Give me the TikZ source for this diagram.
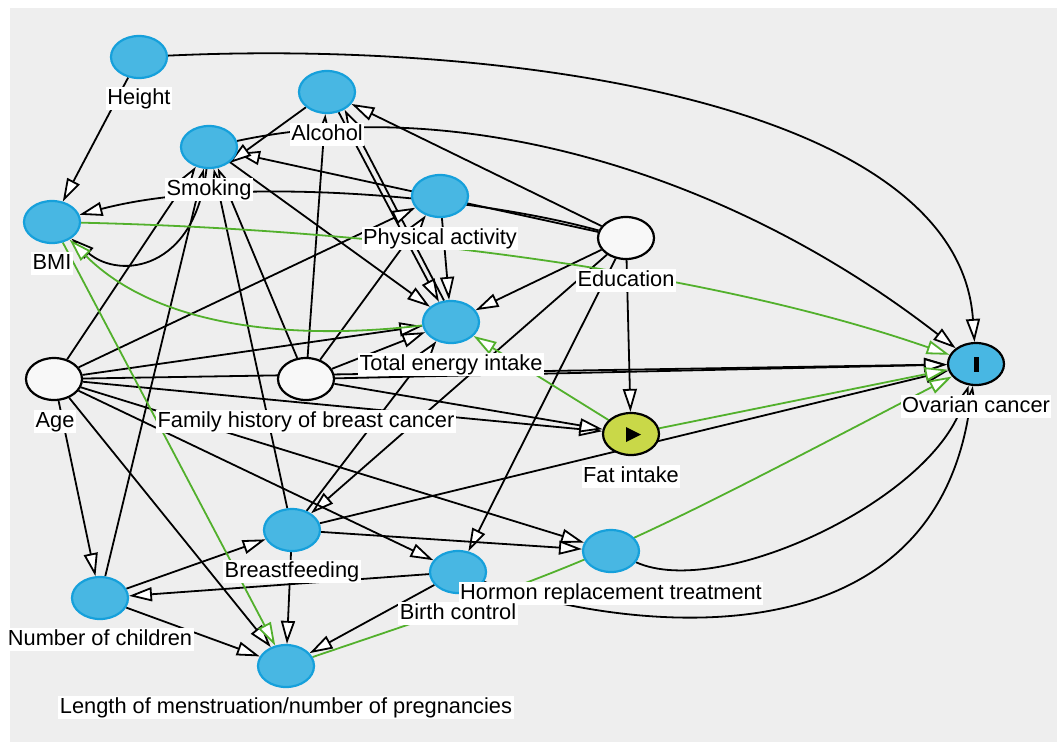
\documentclass[tikz,border=0pt]{standalone}
\usepackage{fontspec}
\setmainfont{Liberation Sans}
\usetikzlibrary{shapes.geometric,arrows.meta}
\pgfdeclarelayer{back}
\pgfdeclarelayer{edges}
\pgfsetlayers{back,edges,main}
\definecolor{bg}{RGB}{238,238,238}
\definecolor{nblue}{RGB}{72,183,227}
\definecolor{bblue}{RGB}{22,160,219}
\definecolor{fatc}{RGB}{201,216,72}
\definecolor{gline}{RGB}{82,176,44}
\definecolor{wnode}{RGB}{248,248,248}
\begin{document}
\begin{tikzpicture}[x=1pt,y=-1pt,
  var/.style={ellipse, minimum width=56pt, minimum height=42pt, inner sep=0pt, line width=2.2pt},
  adj/.style={var, draw=bblue, fill=nblue},
  unobs/.style={var, draw=black, fill=wnode},
  lbl/.style={fill=white, inner xsep=1.5pt, inner ysep=1pt, text height=15.8pt, text depth=4.6pt, font=\fontsize{21.8pt}{24pt}\selectfont},
  edge/.style={line width=1.8pt, -{Triangle[length=23pt,width=14pt,fill=white]}},
  gedge/.style={edge, draw=gline}
]
\begin{pgfonlayer}{back}
\fill[white] (0,0) rectangle (1057,742);
\fill[bg] (10,8) rectangle (1057,742);
\end{pgfonlayer}
\useasboundingbox (0,0) rectangle (1057,742);

% nodes
\node[adj] (height) at (139,57) {};
\node[adj] (alcohol) at (327,92) {};
\node[adj] (smoking) at (209,147) {};
\node[adj] (bmi) at (52,222) {};
\node[adj] (pa) at (440,196) {};
\node[adj] (tei) at (451,322) {};
\node[unobs] (age) at (54,379) {};
\node[unobs] (fh) at (306,379) {};
\node[unobs] (edu) at (626,238) {};
\node[var, draw=black, fill=nblue] (oc) at (976,364) {};
\node[var, draw=black, fill=fatc] (fat) at (631,434) {};
\node[adj] (bf) at (292,530) {};
\node[adj] (bc) at (458,572) {};
\node[adj] (hrt) at (611,551) {};
\node[adj] (noc) at (100,598) {};
\node[adj] (len) at (286,666) {};
\fill (973.5,356.5) rectangle (978.5,371.5);
\fill (626,427) -- (626,442) -- (641,434.5) -- cycle;

\begin{pgfonlayer}{edges}
\draw[edge] (height) -- (bmi);
\draw[edge] (edu) -- (alcohol);
\draw[edge] (edu) -- (smoking);
\draw[edge] (edu) -- (tei);
\draw[edge] (edu) -- (bf);
\draw[edge] (edu) -- (bc);
\draw[edge] (edu) -- (fat);
\draw[edge] (alcohol) -- (smoking.-40);
\draw[edge] (alcohol.-60) -- (tei.121);
\draw[edge] (tei.108) -- (alcohol.-45);
\draw[edge] (smoking) -- (tei);
\draw[edge] (age) -- (smoking);
\draw[edge] (noc) -- (smoking);
\draw[edge] (bf) -- (smoking);
\draw[edge] (fh) -- (smoking);
\draw[edge] (fh) -- (alcohol);
\draw[edge] (fh) -- (pa);
\draw[edge] (age) -- (pa);
\draw[edge] (pa) -- (tei);
\draw[edge] (age) -- (tei);
\draw[edge] (fh) -- (tei);
\draw[edge] (bf) -- (tei);
\draw[edge] (age) -- (oc);
\draw[edge] (fh) -- (oc);
\draw[edge] (age) -- (fat);
\draw[edge] (fh) -- (fat);
\draw[edge] (age) -- (bc);
\draw[edge] (age) -- (hrt);
\draw[edge] (age) -- (len);
\draw[edge] (age) -- (noc);
\draw[edge] (bf) -- (oc);
\draw[edge] (bf) -- (hrt);
\draw[edge] (bf) -- (len);
\draw[edge] (noc) -- (bf);
\draw[edge] (noc) -- (len);
\draw[edge] (bc) -- (noc);
\draw[edge] (bc) -- (len);
\draw[edge] (height) .. controls (500,40) and (958,100) .. (oc);
\draw[edge] (smoking) .. controls (450,95) and (720,165) .. (oc);
\draw[edge] (smoking) .. controls (195,270) and (120,280) .. (bmi);
\draw[edge] (edu) .. controls (470,195) and (230,175) .. (bmi);
\draw[edge] (hrt) .. controls (720,600) and (930,500) .. (oc);
\draw[edge] (bc) .. controls (600,625) and (930,680) .. (oc);
\draw[gedge] (fat) -- (tei);
\draw[gedge] (fat) -- (oc);
\draw[gedge] (bmi) -- (len);
\draw[gedge] (len) .. controls (600,560) .. (oc);
\draw[gedge] (tei) .. controls (300,340) and (160,330) .. (bmi);
\draw[gedge] (bmi) .. controls (400,230) and (720,275) .. (oc);
\end{pgfonlayer}

% labels
\node[lbl] (heightL) at (139,98.5) {Height};
\node[lbl] (alcoholL) at (327,134.5) {Alcohol};
\node[lbl] (smokingL) at (209,189.5) {Smoking};
\node[lbl] (bmiL) at (52,263.5) {BMI};
\node[lbl] (paL) at (440,238.5) {Physical activity};
\node[lbl] (teiL) at (451,364.5) {Total energy intake};
\node[lbl] (ageL) at (55,421.5) {Age};
\node[lbl] (fhL) at (306,421.5) {Family history of breast cancer};
\node[lbl] (eduL) at (626,280.5) {Education};
\node[lbl] (ocL) at (976,406.5) {Ovarian cancer};
\node[lbl] (fatL) at (631,476.5) {Fat intake};
\node[lbl] (bfL) at (292,571.5) {Breastfeeding};
\node[lbl] (hrtL) at (611,593.5) {Hormon replacement treatment};
\node[lbl] (bcL) at (458,613.5) {Birth control};
\node[lbl] (nocL) at (100,639.5) {Number of children};
\node[lbl] (lenL) at (286,707.5) {Length of menstruation/number of pregnancies};
\end{tikzpicture}
\end{document}
